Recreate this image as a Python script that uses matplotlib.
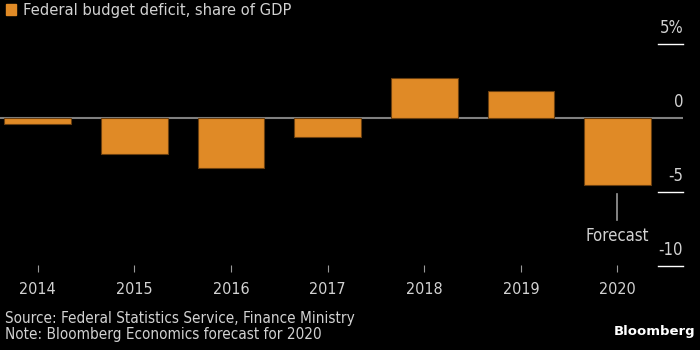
import matplotlib.pyplot as plt

# data
years = ['2014', '2015', '2016', '2017', '2018', '2019', '2020']
deficit = [-0.4, -2.4, -3.4, -1.3, 2.7, 1.8, -4.5]
y_ticks = [5, 0, -5, -10]
y_tick_labels = ['5%', '0', '-5', '-10']

bar_color = '#E08A26'
text_color = '#D2D2D2'

plt.rcParams['font.family'] = ['DejaVu Sans']
plt.rcParams['font.stretch'] = 'condensed'

fig = plt.figure(figsize=(7, 3.5), dpi=100, facecolor='black')
ax = fig.add_axes([0, 0.223, 0.976, 0.671], facecolor='black')

x = range(len(years))
ax.bar(x, deficit, width=0.69, color=bar_color, edgecolor='#6a3f10', linewidth=0.8, zorder=2)
ax.axhline(0, color='#808080', linewidth=1.5, zorder=1)

ax.set_xlim(-0.39, 6.68)
ax.set_ylim(-10.4, 5.47)

# y ticks on right, drawn as short lines with labels above
for v, lab in zip(y_ticks, y_tick_labels):
    if v != 0:
        ax.plot([6.42, 6.68], [v, v], color='white', linewidth=1, zorder=3, clip_on=False)
    ax.text(6.68, v + 0.45, lab, color=text_color, fontsize=12, ha='right', va='bottom')

ax.set_yticks([])
ax.set_xticks(list(x))
ax.set_xticklabels(years, color=text_color, fontsize=11.5)
ax.tick_params(axis='x', direction='in', length=5, color='#9a9a9a', pad=7)
for s in ax.spines.values():
    s.set_visible(False)

# forecast annotation
ax.plot([6, 6], [-5.1, -6.9], color='#9a9a9a', linewidth=1.2)
ax.text(6, -8.0, 'Forecast', color=text_color, fontsize=12, ha='center', va='center')

# title and footer
fig.patches.append(plt.Rectangle((6 / 700, 1 - 14.5 / 350), 10 / 700, 10 / 350,
                                 transform=fig.transFigure, color=bar_color))
fig.text(23 / 700, 1 - 10 / 350, 'Federal budget deficit, share of GDP',
         color=text_color, fontsize=11.8, va='center')
fig.text(5 / 700, 1 - 318 / 350, 'Source: Federal Statistics Service, Finance Ministry',
         color=text_color, fontsize=11, va='center')
fig.text(5 / 700, 1 - 335 / 350, 'Note: Bloomberg Economics forecast for 2020',
         color=text_color, fontsize=11, va='center')
fig.text(695 / 700, 1 - 331 / 350, 'Bloomberg', color='white', fontsize=9.5,
         fontweight='bold', fontstretch='normal', ha='right', va='center')

fig.savefig('out.png', dpi=100, facecolor='black')
